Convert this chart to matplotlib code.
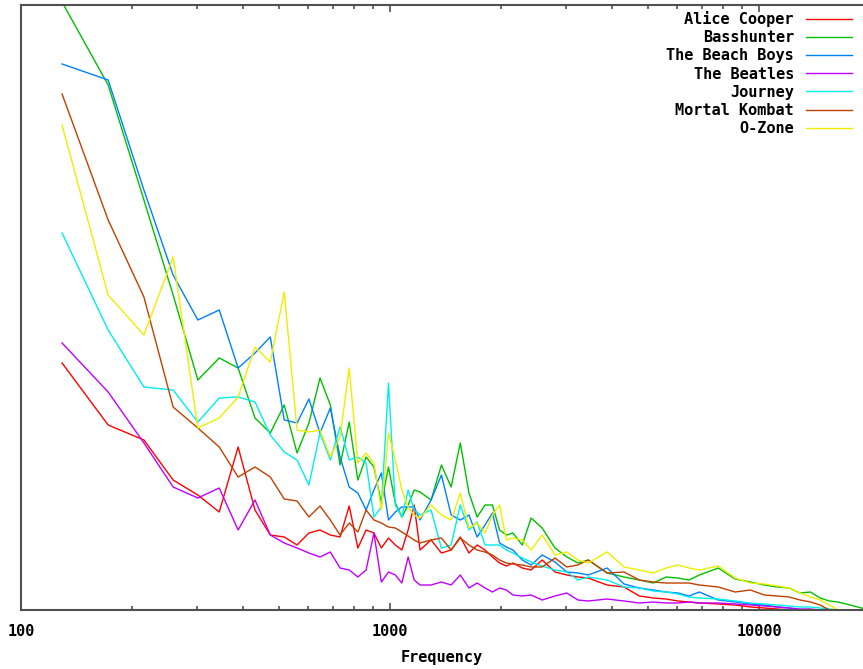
import numpy as np
import matplotlib
matplotlib.use('Agg')
import matplotlib.pyplot as plt
from matplotlib.ticker import LogLocator, NullFormatter, FixedLocator, FixedFormatter

# FFT bin numbers (44100 Hz, 1024 point FFT)
bins = [3, 4, 5, 6, 7, 8, 9, 10, 11, 12, 13, 14, 15, 16, 17, 18, 19, 20, 21, 22, 23, 24, 25, 26, 27, 28,
        30, 32, 34, 36, 38, 40, 42, 44, 46, 48, 50, 53, 56, 60, 65, 70, 75, 80,
        90, 100, 110, 120, 130, 140, 150, 160, 180, 200, 220, 240, 260, 280, 300,
        320, 340, 360, 380, 400, 420, 440, 450]
freq = np.array(bins) * 44100.0 / 1024.0

alice = [247, 185, 170, 130, 115, 98, 163, 100, 75, 73, 65, 77, 80, 75, 73, 104, 62, 80, 77, 62, 72, 65, 60, 80, 105, 60,
         70, 57, 60, 73, 57, 65, 60, 53, 47, 44, 47, 42, 40, 50, 38, 35, 33, 32,
         25, 23, 14, 12, 11, 9, 8, 7, 6, 5, 3, 2, 1, 0, 0,
         0, 0, 0, 0, 0, 0, 0, 0]
basshunter = [608, 525, 410, 315, 230, 252, 242, 192, 177, 205, 157, 187, 232, 205, 145, 188, 130, 153, 143, 107, 143, 107, 93, 105, 120, 118,
              110, 145, 123, 167, 117, 93, 105, 105, 80, 75, 77, 65, 92, 82, 62, 53, 47, 50,
              37, 33, 30, 27, 33, 32, 30, 35, 42, 31, 28, 25, 23, 22, 17,
              18, 12, 9, 8, 6, 4, 2, 1]
beach_boys = [546, 530, 420, 335, 290, 300, 242, 257, 273, 190, 187, 211, 177, 202, 153, 123, 117, 100, 120, 137, 90, 98, 103, 103, 103, 90,
              110, 135, 95, 90, 95, 73, 85, 97, 67, 63, 60, 50, 45, 55, 48, 38, 37, 35,
              42, 26, 22, 20, 18, 17, 14, 18, 10, 8, 6, 5, 3, 2, 0,
              0, 0, 0, 0, 0, 0, 0, 0]
beatles = [267, 218, 167, 123, 112, 122, 80, 110, 75, 67, 62, 57, 53, 58, 42, 40, 33, 40, 77, 28, 38, 35, 27, 53, 30, 25,
           25, 28, 25, 35, 22, 27, 22, 18, 22, 20, 15, 14, 15, 10, 14, 17, 10, 9,
           11, 9, 7, 8, 7, 7, 8, 7, 7, 6, 5, 4, 3, 2, 1,
           1, 0, 0, 0, 0, 0, 0, 0]
journey = [377, 280, 223, 220, 188, 212, 213, 208, 175, 158, 150, 125, 177, 150, 183, 150, 153, 147, 93, 103, 227, 105, 93, 120, 100, 95,
           100, 62, 65, 105, 80, 88, 65, 65, 65, 60, 57, 52, 48, 44, 40, 38, 30, 33,
           30, 23, 22, 19, 18, 16, 13, 12, 11, 9, 7, 6, 5, 4, 3,
           3, 2, 1, 0, 0, 0, 0, 0]
mortal_kombat = [516, 390, 313, 203, 182, 163, 133, 143, 133, 111, 109, 93, 104, 90, 75, 87, 78, 100, 90, 87, 83, 82, 78, 74, 70, 67,
                 70, 72, 60, 72, 65, 60, 58, 55, 50, 47, 46, 45, 43, 43, 52, 43, 45, 50,
                 37, 38, 30, 28, 27, 27, 27, 25, 23, 18, 20, 15, 14, 13, 10,
                 8, 5, 0, 0, 0, 0, 0, 0]
o_zone = [485, 315, 275, 353, 182, 192, 213, 263, 248, 318, 180, 178, 180, 153, 173, 242, 147, 157, 147, 100, 177, 150, 120, 103, 95, 92,
          105, 95, 90, 117, 82, 87, 77, 95, 105, 70, 72, 70, 60, 75, 55, 58, 50, 47,
          58, 43, 40, 37, 42, 45, 42, 40, 44, 32, 27, 26, 24, 22, 17,
          13, 10, 5, 0, 0, 0, 0, 0]

names = ['Alice Cooper', 'Basshunter', 'The Beach Boys', 'The Beatles', 'Journey', 'Mortal Kombat', 'O-Zone']
series = [alice, basshunter, beach_boys, beatles, journey, mortal_kombat, o_zone]
colors = ['#ff0000', '#00c000', '#0080ff', '#c000ff', '#00eeee', '#c04000', '#eeee00']

font = {'family': 'DejaVu Sans Mono', 'weight': 'bold', 'size': 11}

fig = plt.figure(figsize=(8.63, 6.69), dpi=100)
ax = fig.add_axes([21 / 863, 59 / 669, 842 / 863, 605 / 669])

for name, vals, c in zip(names, series, colors):
    ax.plot(freq, vals, color=c, lw=1.0, label=name)

ax.set_xscale('log')
ax.set_xlim(100, 19130)
ax.set_ylim(0, 605)

spine_col = '#505050'
for s in ['left', 'bottom', 'top']:
    ax.spines[s].set_color(spine_col)
    ax.spines[s].set_linewidth(1.5)
ax.spines['right'].set_visible(False)

ax.xaxis.set_major_locator(FixedLocator([100, 1000, 10000]))
ax.xaxis.set_major_formatter(FixedFormatter(['100', '1000', '10000']))
ax.xaxis.set_minor_locator(LogLocator(base=10, subs=np.arange(2, 10)))
ax.xaxis.set_minor_formatter(NullFormatter())
ax.tick_params(axis='x', which='both', direction='in', top=True, bottom=True,
               color=spine_col, width=1.2)
ax.tick_params(axis='x', which='major', length=5, pad=10)
ax.tick_params(axis='x', which='minor', length=3)
ax.set_yticks([])
for lbl in ax.get_xticklabels():
    lbl.set_fontfamily('DejaVu Sans Mono')
    lbl.set_fontweight('bold')
    lbl.set_fontsize(11)

ax.set_xlabel('Frequency', fontdict=font, labelpad=8)

leg = ax.legend(loc='upper right', bbox_to_anchor=(852 / 863, 1 - 11 / 669),
                bbox_transform=fig.transFigure, frameon=False, markerfirst=False,
                prop={'family': 'DejaVu Sans Mono', 'weight': 'bold', 'size': 11},
                handlelength=3.0, handletextpad=0.8, labelspacing=0.21, borderpad=0,
                borderaxespad=0)

fig.savefig('out.png', dpi=100)
